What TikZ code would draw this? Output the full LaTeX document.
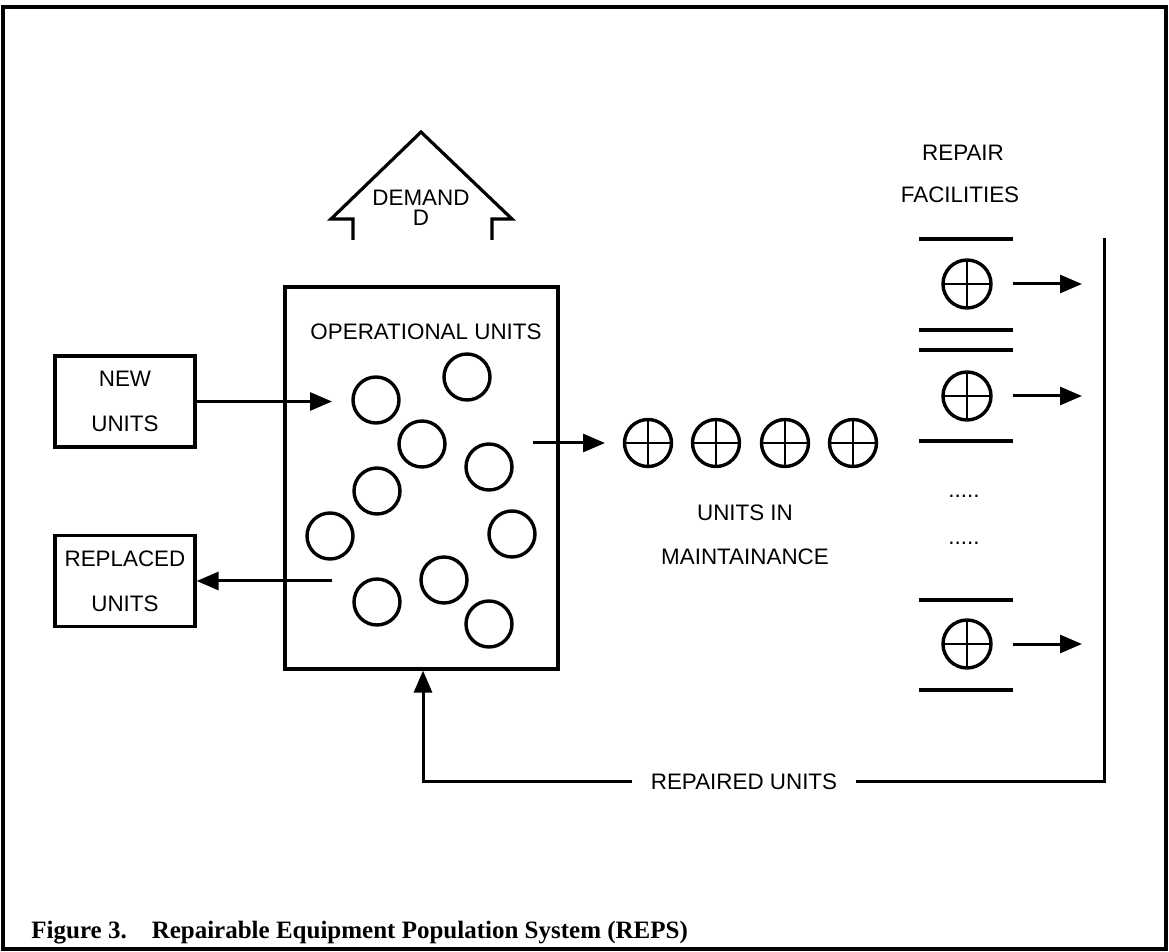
\documentclass[tikz,border=0pt]{standalone}
\usepackage{fontspec}
\setmainfont{Liberation Serif}
\setsansfont{Liberation Sans}
\usetikzlibrary{arrows.meta}

\tikzset{
  lbl/.style={font=\sffamily\fontsize{11.2}{13}\selectfont, inner sep=0pt},
  unitbox/.style={draw, line width=1.6pt, minimum width=70pt, minimum height=45.5pt,
    align=center, font=\sffamily\fontsize{11.2}{22.3}\selectfont, inner sep=0pt},
  opunit/.style={circle, draw, line width=1.7pt, minimum size=23pt, inner sep=0pt},
  mtunit/.style={circle, draw, line width=1.7pt, minimum size=23.5pt, inner sep=0pt,
    path picture={\draw[line width=1.3pt]
      (path picture bounding box.north) -- (path picture bounding box.south)
      (path picture bounding box.west) -- (path picture bounding box.east);}},
  flow/.style={line width=1.5pt, -{Triangle[length=11pt,width=9pt]}},
  wire/.style={line width=1.5pt},
  bar/.style={line width=1.6pt},
}

\begin{document}
\begin{tikzpicture}[x=0.5pt,y=-0.5pt, line join=miter]
\useasboundingbox (0,0) rectangle (1169,952);

% outer frame
\draw[line width=1.8pt] (3,7) rectangle (1166,949);

% demand arrow
\draw[line width=1.6pt] (353,240) -- (353,219) -- (331,219) -- (421,132)
  -- (512,219) -- (492,219) -- (492,240);
\node[lbl] (dem) at (421,198) {DEMAND};
\node[lbl] (demd) at (421,218) {D};

% operational units
\node[draw, line width=1.6pt, minimum width=136.5pt, minimum height=191pt, inner sep=0pt]
  (ops) at (421.5,478) {};
\node[lbl] (opstitle) at (426,332) {OPERATIONAL UNITS};
\node[opunit] (u1)  at (467,377) {};
\node[opunit] (u2)  at (376,400) {};
\node[opunit] (u3)  at (422,444) {};
\node[opunit] (u4)  at (489,467) {};
\node[opunit] (u5)  at (377,491) {};
\node[opunit] (u6)  at (330,536) {};
\node[opunit] (u7)  at (512,534) {};
\node[opunit] (u8)  at (444,580) {};
\node[opunit] (u9)  at (377,602) {};
\node[opunit] (u10) at (489,624) {};

% new and replaced units
\node[unitbox] (newu) at (125,401.5) {NEW\\UNITS};
\node[unitbox] (repu) at (125,581) {REPLACED\\UNITS};
\coordinate (newin) at (332,401.5);
\coordinate (repout) at (332,581);
\draw[flow] (newu) -- (newin);
\draw[flow] (repout) -- (repu);

% units in maintenance
\coordinate (frombox) at (533,443);
\coordinate (tomaint) at (605,443);
\draw[flow] (frombox) -- (tomaint);
\node[mtunit] (m1) at (648,443) {};
\node[mtunit] (m2) at (716,443) {};
\node[mtunit] (m3) at (785,443) {};
\node[mtunit] (m4) at (853,443) {};
\node[lbl] (mlbl1) at (745,513) {UNITS IN};
\node[lbl] (mlbl2) at (745,557) {MAINTAINANCE};

% repair facilities
\node[lbl] (rf1) at (963,153) {REPAIR};
\node[lbl] (rf2) at (960,195) {FACILITIES};
\foreach \yy in {239,330,350,441,600,690}
  \draw[bar] (919,\yy) -- (1013,\yy);
\node[mtunit, minimum size=24pt] (r1) at (967,284) {};
\node[mtunit, minimum size=24pt] (r2) at (967,396) {};
\node[mtunit, minimum size=24pt] (r3) at (967,644) {};
\coordinate (r1out) at (1082,284);
\coordinate (r2out) at (1082,396);
\coordinate (r3out) at (1082,644);
\draw[flow] ([xshift=10pt]r1.east) -- (r1out);
\draw[flow] ([xshift=10pt]r2.east) -- (r2out);
\draw[flow] ([xshift=10pt]r3.east) -- (r3out);
\node[lbl] (dots1) at (964,496) {.....};
\node[lbl] (dots2) at (964,543) {.....};

% return of repaired units
\coordinate (rtop) at (1104,238);
\coordinate (rbot) at (1104,781);
\coordinate (rleft) at (423,781);
\node[lbl, inner xsep=9pt] (repd) at (744,782) {REPAIRED UNITS};
\draw[wire] (rtop) -- (rbot) -- (repd.east |- rbot);
\draw[flow] (repd.west |- rleft) -- (rleft) -- (ops.south -| rleft);

% caption
\node[anchor=base west, inner sep=0pt, font=\bfseries\fontsize{12.5}{14}\selectfont]
  (cap) at (31,938) {Figure 3.\hspace{1em}Repairable Equipment Population System (REPS)};
\end{tikzpicture}
\end{document}
